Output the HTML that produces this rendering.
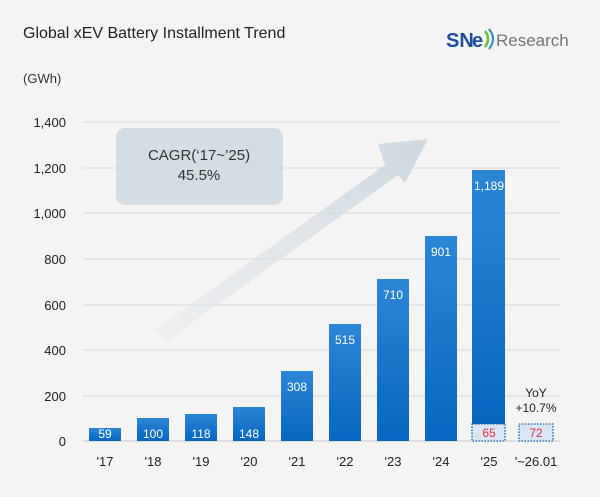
<!DOCTYPE html>
<html><head><meta charset="utf-8"><style>
body{margin:0;background:#f3f3f3;}
svg{display:block;font-family:"Liberation Sans",sans-serif;}
</style></head><body>
<svg width="600" height="497" viewBox="0 0 600 497" xmlns="http://www.w3.org/2000/svg">
<defs>
<linearGradient id="b" x1="0" y1="0" x2="0" y2="1">
<stop offset="0" stop-color="#2c86d6"/><stop offset="1" stop-color="#0866c0"/>
</linearGradient>
<linearGradient id="a" x1="160" y1="320" x2="420" y2="150" gradientUnits="userSpaceOnUse">
<stop offset="0" stop-color="#dfe4e8" stop-opacity="0.4"/><stop offset="1" stop-color="#cfd9e0"/>
</linearGradient>
</defs>
<rect width="600" height="497" fill="#f4f4f4"/>
<text x="23" y="38" font-size="16" fill="#222">Global xEV Battery Installment Trend</text>
<text x="446" y="47" font-size="20" font-weight="bold" fill="#1d4f9c">SN</text>
<text x="472" y="47" font-size="20" font-weight="bold" fill="#1d4f9c">e</text>
<path d="M485 31 q6 8 0 16" stroke="#6dbb3a" stroke-width="2.5" fill="none"/>
<path d="M489 29 q8 10 0 20" stroke="#2a8ad0" stroke-width="2" fill="none"/>
<text x="496" y="46" font-size="17" fill="#777">Research</text>
<text x="23" y="83" font-size="13" fill="#333">(GWh)</text>
<g stroke="#d8d8d8" stroke-width="1">
<line x1="83" y1="122" x2="560" y2="122"/><line x1="83" y1="168" x2="560" y2="168"/>
<line x1="83" y1="213" x2="560" y2="213"/><line x1="83" y1="259" x2="560" y2="259"/>
<line x1="83" y1="305" x2="560" y2="305"/><line x1="83" y1="350" x2="560" y2="350"/>
<line x1="83" y1="396" x2="560" y2="396"/>
</g>
<line x1="83" y1="441" x2="560" y2="441" stroke="#c8c8c8"/>
<g font-size="13" fill="#222" text-anchor="end">
<text x="66" y="127">1,400</text><text x="66" y="173">1,200</text><text x="66" y="218">1,000</text>
<text x="66" y="264">800</text><text x="66" y="310">600</text><text x="66" y="355">400</text>
<text x="66" y="401">200</text><text x="66" y="446">0</text>
</g>
<polygon points="155,330 385,165 378,144 428,139 405,183 398,175 168,340" fill="url(#a)"/>
<rect x="116" y="128" width="167" height="77" rx="9" fill="#d3dde3"/>
<text x="199" y="160" font-size="15" fill="#333" text-anchor="middle">CAGR(‘17~’25)</text>
<text x="199" y="180" font-size="15" fill="#333" text-anchor="middle">45.5%</text>
<g fill="url(#b)">
<rect x="89" y="428" width="32" height="13"/>
<rect x="137" y="418" width="32" height="23"/>
<rect x="185" y="414" width="32" height="27"/>
<rect x="233" y="407" width="32" height="34"/>
<rect x="281" y="371" width="32" height="70"/>
<rect x="329" y="324" width="32" height="117"/>
<rect x="377" y="279" width="32" height="162"/>
<rect x="425" y="236" width="32" height="205"/>
<rect x="472" y="170" width="33" height="254"/>
</g>
<g font-size="12" fill="#fff" text-anchor="middle">
<text x="105" y="438">59</text><text x="153" y="438">100</text><text x="201" y="438">118</text>
<text x="249" y="438">148</text><text x="297" y="391">308</text><text x="345" y="344">515</text>
<text x="393" y="299">710</text><text x="441" y="256">901</text><text x="489" y="190">1,189</text>
</g>
<rect x="472" y="424" width="33" height="17" fill="#dbe6f5" stroke="#1a5fb0" stroke-width="1.3" stroke-dasharray="1.5,1.5"/>
<rect x="519" y="424" width="34" height="17" fill="#dbe6f5" stroke="#1a5fb0" stroke-width="1.3" stroke-dasharray="1.5,1.5"/>
<text x="489" y="437" font-size="12" fill="#e03040" text-anchor="middle">65</text>
<text x="536" y="437" font-size="12" fill="#e03040" text-anchor="middle">72</text>
<text x="536" y="397" font-size="12" fill="#222" text-anchor="middle">YoY</text>
<text x="536" y="412" font-size="12" fill="#222" text-anchor="middle">+10.7%</text>
<g font-size="13" fill="#222" text-anchor="middle">
<text x="105" y="466">'17</text><text x="153" y="466">'18</text><text x="201" y="466">'19</text>
<text x="249" y="466">'20</text><text x="297" y="466">'21</text><text x="345" y="466">'22</text>
<text x="393" y="466">'23</text><text x="441" y="466">'24</text><text x="489" y="466">'25</text>
<text x="536" y="466">'~26.01</text>
</g>
</svg>
</body></html>
